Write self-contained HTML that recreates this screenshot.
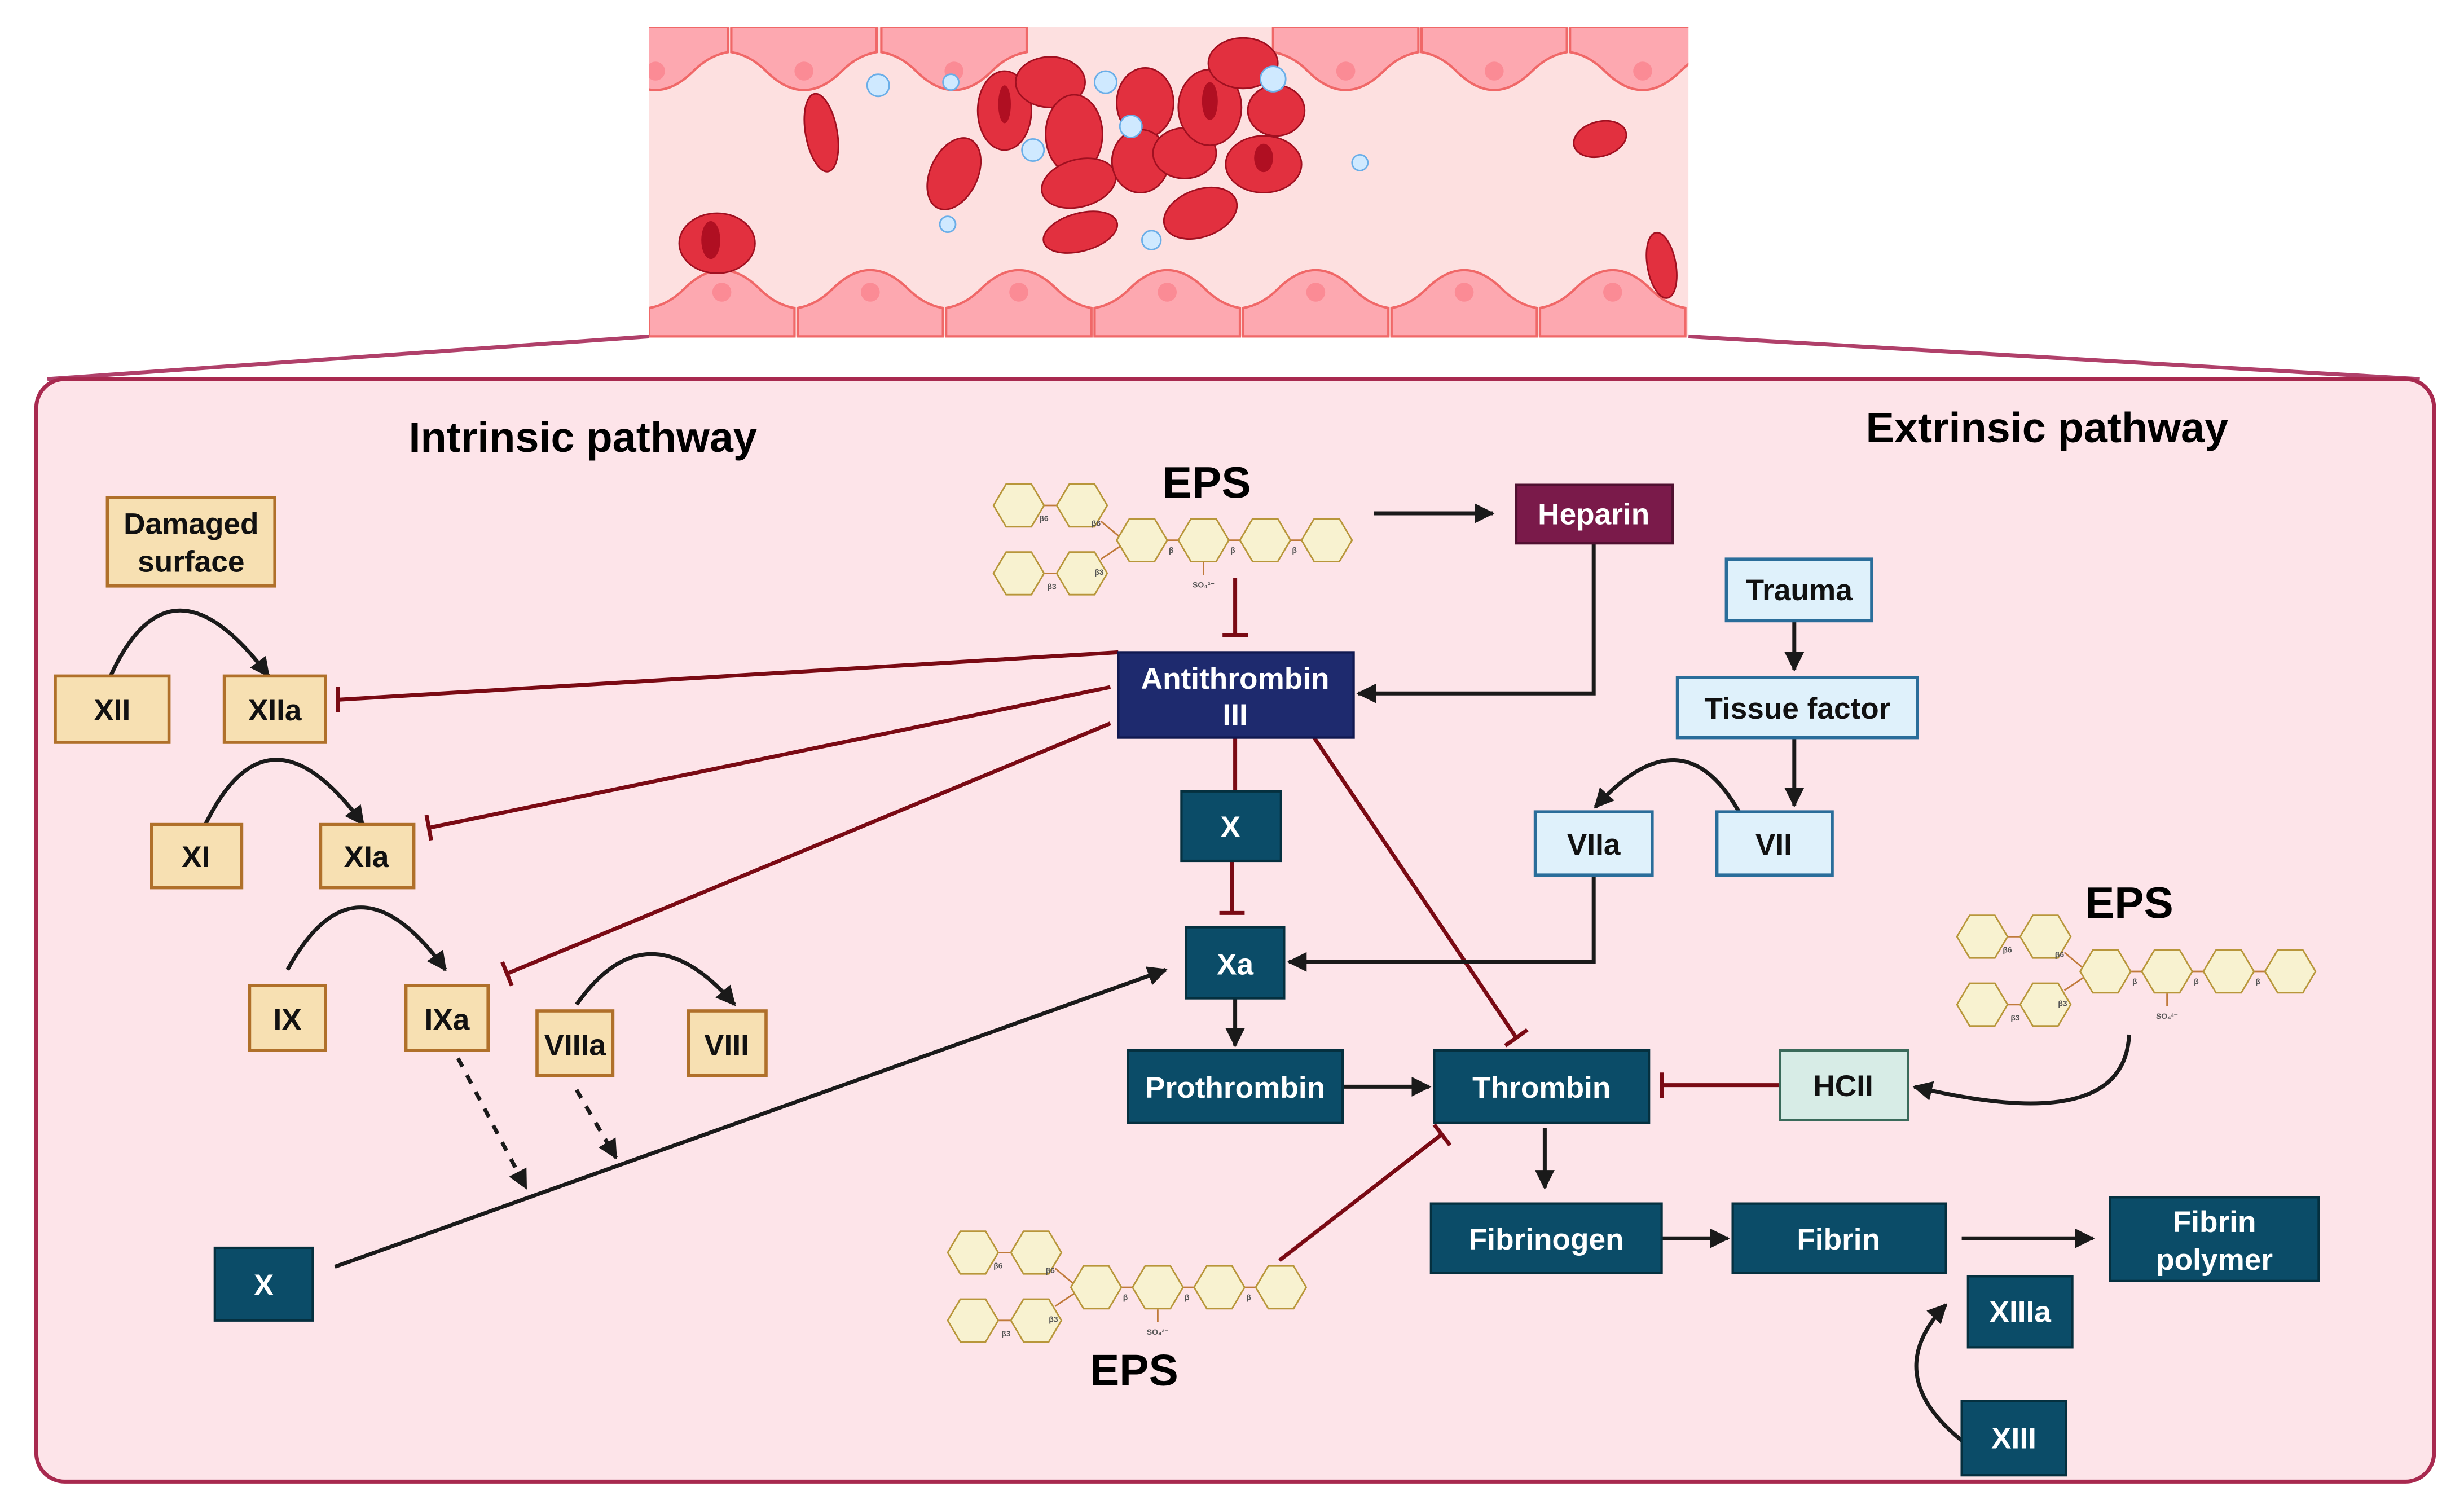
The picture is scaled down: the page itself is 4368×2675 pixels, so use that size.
<!DOCTYPE html>
<html><head><meta charset="utf-8"><style>html,body{margin:0;padding:0;background:#fff}svg{display:block}text{font-family:"Liberation Sans",sans-serif;font-weight:bold}</style></head>
<body>
<svg width="4368" height="2675" viewBox="0 0 1560 955.36" xmlns="http://www.w3.org/2000/svg">
<defs>
<clipPath id="vc"><rect x="411" y="17" width="658" height="197"/></clipPath>
<marker id="ah" viewBox="0 0 10 10" refX="9" refY="5" markerWidth="5" markerHeight="5" orient="auto-start-reverse"><path d="M0,0L10,5L0,10z" fill="#1a1a1a"/></marker>
<g id="hex"><polygon points="-16,0 -8,-13.5 8,-13.5 16,0 8,13.5 -8,13.5" fill="#f8f2d0" stroke="#b8963a" stroke-width="1"/></g>
<g id="mol">
<g stroke="#c07a3a" stroke-width="1"><line x1="16" y1="0" x2="24" y2="0"/><line x1="16" y1="43" x2="24" y2="43"/><line x1="52" y1="10" x2="64" y2="20"/><line x1="52" y1="34" x2="64" y2="26"/><line x1="94" y1="22" x2="102" y2="22"/><line x1="133" y1="22" x2="141" y2="22"/><line x1="172" y1="22" x2="180" y2="22"/><line x1="117" y1="36" x2="117" y2="44"/></g>
<use href="#hex" x="0" y="0"/><use href="#hex" x="40" y="0"/><use href="#hex" x="0" y="43"/><use href="#hex" x="40" y="43"/>
<use href="#hex" x="78" y="22"/><use href="#hex" x="117" y="22"/><use href="#hex" x="156" y="22"/><use href="#hex" x="195" y="22"/>
<g font-size="5" fill="#555" style="font-weight:normal"><text x="13" y="10">β6</text><text x="46" y="13">β6</text><text x="18" y="53">β3</text><text x="48" y="44">β3</text><text x="95" y="30">β</text><text x="134" y="30">β</text><text x="173" y="30">β</text><text x="110" y="52">SO₄²⁻</text></g>
</g>
<g id="tc"><path d="M0,0h92v16q-12,2 -22,12q-12,12 -24,12q-12,0 -24,-12q-10,-10 -22,-12z" fill="#fda8b0" stroke="#f06868" stroke-width="1.5"/><circle cx="46" cy="28" r="6" fill="#fb8b95"/></g>
<g id="bcell"><path d="M0,0v-18q12,-2 22,-12q12,-12 24,-12q12,0 24,12q10,10 22,12v18z" fill="#fda8b0" stroke="#f06868" stroke-width="1.5"/><circle cx="46" cy="-28" r="6" fill="#fb8b95"/></g>
</defs>
<g clip-path="url(#vc)">
<rect x="411" y="17" width="658" height="196" fill="#fde0e0"/>
<use href="#tc" x="369" y="17"/><use href="#tc" x="463" y="17"/><use href="#tc" x="558" y="17"/>
<use href="#tc" x="806" y="17"/><use href="#tc" x="900" y="17"/><use href="#tc" x="994" y="17"/>
<use href="#bcell" x="411" y="213"/><use href="#bcell" x="505" y="213"/><use href="#bcell" x="599" y="213"/><use href="#bcell" x="693" y="213"/><use href="#bcell" x="787" y="213"/><use href="#bcell" x="881" y="213"/><use href="#bcell" x="975" y="213"/>
<g fill="#e2303f" stroke="#a01020" stroke-width="1">
<ellipse cx="454" cy="154" rx="24" ry="19"/><ellipse cx="520" cy="84" rx="10" ry="25" transform="rotate(-10 520 84)"/>
<ellipse cx="604" cy="110" rx="15" ry="24" transform="rotate(25 604 110)"/><ellipse cx="636" cy="70" rx="17" ry="25"/>
<ellipse cx="665" cy="52" rx="22" ry="16"/><ellipse cx="680" cy="85" rx="18" ry="25"/><ellipse cx="683" cy="116" rx="24" ry="15" transform="rotate(-15 683 116)"/>
<ellipse cx="725" cy="65" rx="18" ry="22"/><ellipse cx="722" cy="102" rx="18" ry="20"/><ellipse cx="750" cy="97" rx="20" ry="16"/>
<ellipse cx="766" cy="68" rx="20" ry="24"/><ellipse cx="787" cy="40" rx="22" ry="16"/><ellipse cx="808" cy="70" rx="18" ry="16"/>
<ellipse cx="800" cy="104" rx="24" ry="18"/><ellipse cx="760" cy="135" rx="24" ry="15" transform="rotate(-20 760 135)"/>
<ellipse cx="684" cy="147" rx="24" ry="12" transform="rotate(-15 684 147)"/><ellipse cx="1013" cy="88" rx="17" ry="11" transform="rotate(-15 1013 88)"/>
<ellipse cx="1052" cy="168" rx="9" ry="21" transform="rotate(-10 1052 168)"/>
</g>
<g fill="#b00f22"><ellipse cx="450" cy="152" rx="6" ry="12"/><ellipse cx="636" cy="66" rx="4" ry="12"/><ellipse cx="766" cy="64" rx="5" ry="12"/><ellipse cx="800" cy="100" rx="6" ry="9"/></g>
<g fill="#cfe9ff" stroke="#6aaee8" stroke-width="1"><circle cx="556" cy="54" r="7"/><circle cx="602" cy="52" r="5"/><circle cx="700" cy="52" r="7"/><circle cx="716" cy="80" r="7"/><circle cx="806" cy="50" r="8"/><circle cx="654" cy="95" r="7"/><circle cx="861" cy="103" r="5"/><circle cx="600" cy="142" r="5"/><circle cx="729" cy="152" r="6"/></g>
</g>
<g stroke="#b0406a" stroke-width="2.5"><line x1="411" y1="213" x2="30" y2="240"/><line x1="1069" y1="213" x2="1532" y2="240"/></g>
<rect x="23" y="240" width="1518" height="698" rx="18" fill="#fde4e9" stroke="#a8294f" stroke-width="2.5"/>
<text x="369" y="286" font-size="27" text-anchor="middle">Intrinsic pathway</text>
<text x="1296" y="280" font-size="27" text-anchor="middle">Extrinsic pathway</text>
<text x="764" y="315" font-size="28" text-anchor="middle">EPS</text>
<text x="1348" y="581" font-size="28" text-anchor="middle">EPS</text>
<text x="718" y="877" font-size="28" text-anchor="middle">EPS</text>
<use href="#mol" x="645" y="320"/>
<use href="#mol" x="1255" y="593"/>
<use href="#mol" x="616" y="793"/>
<g stroke="#7a0a14" stroke-width="2.5" fill="none">
<path d="M782,366V402M774,402H790"/>
<path d="M708,413L214,443M214,435V451"/>
<path d="M703,435L272,524M270,516L273,532"/>
<path d="M703,458L322,616M318,609L324,624"/>
<path d="M832,467L960,657M953,662L967,652"/>
<path d="M782,467V501"/>
<path d="M780,545V578M772,578H788"/>
<path d="M1127,687H1052M1052,679V695"/>
<path d="M810,798L913,718M908,712L918,725"/>
</g>
<g stroke="#1a1a1a" stroke-width="2.5" fill="none" marker-end="url(#ah)">
<path d="M70,428Q108,345 170,428"/>
<path d="M130,522Q170,440 230,522"/>
<path d="M182,614Q225,535 282,614"/>
<path d="M365,636Q410,572 465,636"/>
<path d="M870,325H945"/>
<path d="M1009,344V439H860"/>
<path d="M1136,393V424"/>
<path d="M1136,467V510"/>
<path d="M1101,514Q1065,450 1010,511"/>
<path d="M1009,554V609H816"/>
<path d="M782,632V662"/>
<path d="M850,688H905"/>
<path d="M1348,655Q1345,720 1212,688"/>
<path d="M978,714V752"/>
<path d="M1052,784H1094"/>
<path d="M1242,784H1325"/>
<path d="M1242,912Q1190,870 1232,826"/>
<path d="M212,802L738,614"/>
<path d="M290,670L333,752" stroke-dasharray="6,6"/>
<path d="M365,690L390,733" stroke-dasharray="6,6"/>
</g>
<g fill="#f7e0b2" stroke="#b0702a" stroke-width="2">
<rect x="68" y="315" width="106" height="56"/><rect x="35" y="428" width="72" height="42"/><rect x="142" y="428" width="64" height="42"/>
<rect x="96" y="522" width="57" height="40"/><rect x="203" y="522" width="59" height="40"/><rect x="158" y="624" width="48" height="41"/>
<rect x="257" y="624" width="52" height="41"/><rect x="340" y="640" width="48" height="41"/><rect x="436" y="640" width="49" height="41"/>
</g>
<rect x="708" y="413" width="149" height="54" fill="#1e2a6e" stroke="#101850" stroke-width="1.5"/>
<rect x="960" y="307" width="99" height="37" fill="#7a1a4a" stroke="#501030" stroke-width="1.5"/>
<g fill="#dff1fb" stroke="#2a6d9a" stroke-width="2">
<rect x="1093" y="354" width="92" height="39"/><rect x="1062" y="429" width="152" height="38"/><rect x="972" y="514" width="74" height="40"/><rect x="1087" y="514" width="73" height="40"/>
</g>
<rect x="1127" y="665" width="81" height="44" fill="#d7ece6" stroke="#3a6a5a" stroke-width="1.5"/>
<g fill="#0b4c68" stroke="#05303f" stroke-width="1.5">
<rect x="748" y="501" width="63" height="44"/><rect x="751" y="587" width="62" height="45"/><rect x="714" y="665" width="136" height="46"/>
<rect x="908" y="665" width="136" height="46"/><rect x="906" y="762" width="146" height="44"/><rect x="1097" y="762" width="135" height="44"/>
<rect x="1336" y="758" width="132" height="53"/><rect x="1246" y="808" width="66" height="45"/><rect x="1242" y="887" width="66" height="47"/>
<rect x="136" y="790" width="62" height="46"/>
</g>
<g font-size="19" text-anchor="middle" fill="#111">
<text x="121" y="338">Damaged</text><text x="121" y="362">surface</text>
<text x="71" y="456">XII</text><text x="174" y="456">XIIa</text><text x="124" y="549">XI</text><text x="232" y="549">XIa</text>
<text x="182" y="652">IX</text><text x="283" y="652">IXa</text><text x="364" y="668">VIIIa</text><text x="460" y="668">VIII</text>
<text x="1139" y="380">Trauma</text><text x="1138" y="455">Tissue factor</text><text x="1009" y="541">VIIa</text><text x="1123" y="541">VII</text>
<text x="1167" y="694">HCII</text>
</g>
<g font-size="19" text-anchor="middle" fill="#fff">
<text x="782" y="436">Antithrombin</text><text x="782" y="459">III</text><text x="1009" y="332">Heparin</text>
<text x="779" y="530">X</text><text x="782" y="617">Xa</text><text x="782" y="695">Prothrombin</text><text x="976" y="695">Thrombin</text>
<text x="979" y="791">Fibrinogen</text><text x="1164" y="791">Fibrin</text><text x="1402" y="780">Fibrin</text><text x="1402" y="804">polymer</text>
<text x="1279" y="837">XIIIa</text><text x="1275" y="917">XIII</text><text x="167" y="820">X</text>
</g>
</svg>
</body></html>
